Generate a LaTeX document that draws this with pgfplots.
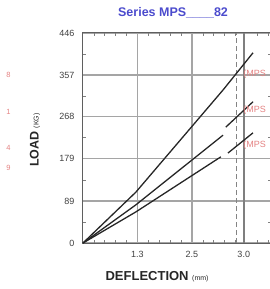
\documentclass[border=0pt]{standalone}
\usepackage{fontspec}
\setmainfont{Liberation Sans}
\usepackage{pgfplots}
\pgfplotsset{compat=1.18}
\definecolor{titleblue}{RGB}{75,75,205}
\definecolor{gridgray}{RGB}{165,165,165}
\definecolor{lblred}{RGB}{228,130,130}
\definecolor{axgray}{RGB}{95,95,95}
\begin{document}
\begin{tikzpicture}
\begin{axis}[
  name=ax,
  at={(0,0)}, anchor=south west,
  scale only axis, width=188pt, height=210pt,
  xmin=0, xmax=3.45, ymin=0, ymax=446,
  xtick={1,2}, xticklabels={1.3,2.5},
  extra x ticks={2.95}, extra x tick labels={3.0},
  extra x tick style={grid=major, major grid style={axgray!80, line width=2pt}},
  ytick={0,89,179,268,357,446},
  minor xtick={0.2,0.4,0.6,0.8,1.2,1.4,1.6,1.8,2.2,2.4,2.6,2.8,3.2,3.4},
  minor ytick={44.5,133.5,223.5,312.5,401.5},
  grid=major,
  major grid style={gridgray, line width=1.2pt},
  major tick length=0pt,
  minor tick length=3pt,
  minor tick style={gray, line width=0.6pt},
  tick align=inside,
  axis line style={draw=axgray, line width=1pt},
  /pgf/number format/assume math mode=true,
  ticklabel style={font=\fontsize{9}{10}\selectfont, text=black!75},
  xticklabel style={yshift=-5pt},
  yticklabel style={xshift=-5pt},
  clip=false,
  title={Series MPS\_\_\_\_82},
  title style={at={(axis description cs:0.479,1.07)}, anchor=center, font=\bfseries\fontsize{12.5}{14}\selectfont, text=titleblue},
  xlabel={\textbf{DEFLECTION} {\fontsize{7}{8}\selectfont(mm)}},
  xlabel style={at={(axis description cs:0.394,-0.16)}, anchor=center, font=\fontsize{13}{15}\selectfont, text=black!85},
  ylabel={\textbf{LOAD} {\fontsize{7}{8}\selectfont(KG)}},
  ylabel style={at={(axis description cs:-0.255,0.49)}, anchor=center, rotate=0, font=\fontsize{12.5}{15}\selectfont, text=black!85},
]
\addplot[gridgray!80!black, line width=1pt, dash pattern=on 5pt off 3pt] coordinates {(2.81,0) (2.81,446)};
\addplot[black!85, line width=1.3pt] coordinates {(0,0) (0.97,108) (2.57,325) (3.12,404)};
\addplot[black!85, line width=1.3pt] coordinates {(0,0) (0.97,81) (2.57,229)};
\addplot[black!85, line width=1.3pt] coordinates {(2.62,246) (3.12,300)};
\addplot[black!85, line width=1.3pt] coordinates {(0,0) (0.97,66) (2.53,183)};
\addplot[black!85, line width=1.3pt] coordinates {(2.66,191) (3.12,234)};
\node[anchor=west, text=lblred, font=\fontsize{9}{10}\selectfont] at (axis cs:2.88,359) {(MPS};
\node[anchor=west, text=lblred, font=\fontsize{9}{10}\selectfont] at (axis cs:2.88,282) {(MPS};
\node[anchor=west, text=lblred, font=\fontsize{9}{10}\selectfont] at (axis cs:2.88,208) {(MPS};
\end{axis}
\foreach \yy/\tt in {168/8,131/1,95/4,75/9}{
  \node[anchor=east, text=lblred, font=\fontsize{7.5}{8}\selectfont] at ([shift={(-69pt,\yy pt)}]ax.south west) {\tt};
}
\pgfresetboundingbox
\path ([shift={(-83pt,-46pt)}]ax.south west) rectangle ([shift={(186pt,243pt)}]ax.south west);
\end{tikzpicture}
\end{document}
